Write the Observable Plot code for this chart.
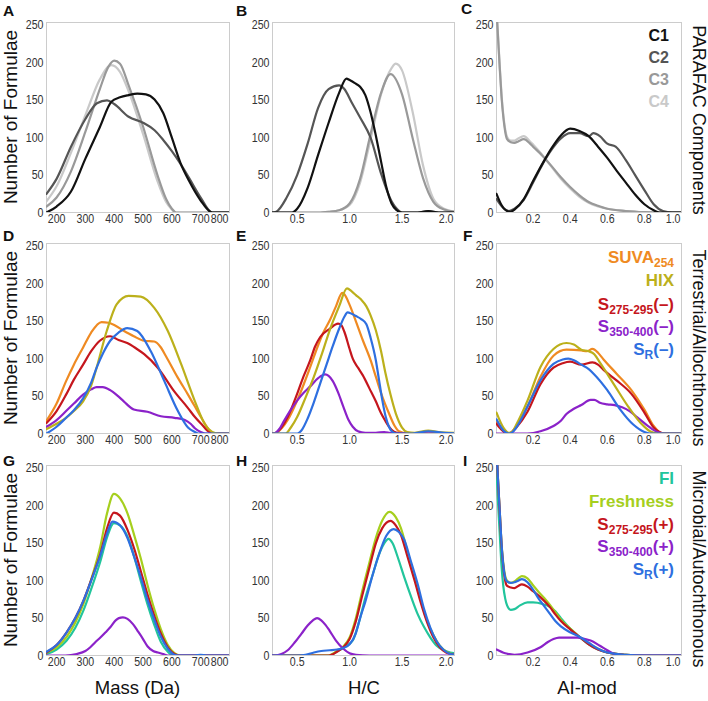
<!DOCTYPE html>
<html><head><meta charset="utf-8">
<script src="https://cdn.jsdelivr.net/npm/d3@7"></script>
<script src="https://cdn.jsdelivr.net/npm/@observablehq/plot@0.6"></script>
<style>
html,body{margin:0;padding:0;background:#fff;}
#wrap{position:relative;width:708px;height:701px;overflow:hidden;}
</style></head><body><div id="wrap"></div>
<script>
// ---------- tick labels ----------
const yTicks = [0, 50, 100, 150, 200, 250];
const massTicks = [200, 300, 400, 500, 600, 700, 800];
const hcTicks = [0.5, 1.0, 1.5, 2.0];
const aiTicks = [0.2, 0.4, 0.6, 0.8, 1.0];
const axisTitles = ["Mass (Da)", "H/C", "AI-mod"];
const rowTitles = ["PARAFAC Components", "Terrestrial/Allochthonous", "Microbial/Autochthonous"];
const panelLetters = ["A","B","C","D","E","F","G","H","I"];
const legendC = ["C1","C2","C3","C4"];

// ---------- colors ----------
const cC1 = "#111111", cC2 = "#555555", cC3 = "#999999", cC4 = "#c9c9c9";
const cSUVA = "#ef8a22", cHIX = "#bcb01b", cRed = "#c5161d", cPurple = "#8b22c9", cBlue = "#2e6fe0", cFI = "#22c59c", cFresh = "#a6cf1e";

// ---------- row 1 : PARAFAC components ----------
const A_C1 = [[165,0],[200,8],[250,28],[300,72],[350,114],[390,148],[420,154],[450,157],[480,159],[510,158],[540,151],[570,133],[600,100],[630,66],[660,42],[700,16],[740,0],[800,0]];
const A_C2 = [[165,25],[200,45],[250,88],[300,125],[340,146],[375,150],[400,145],[450,128],[500,120],[540,110],[570,97],[600,82],[630,65],[660,46],[700,20],[740,0],[800,0]];
const A_C3 = [[165,8],[200,20],[250,55],[300,108],[350,165],[380,195],[400,203],[420,199],[450,170],[500,115],[550,50],[580,18],[600,5],[615,0],[800,0]];
const A_C4 = [[165,15],[200,35],[250,80],[300,130],[350,178],[390,197],[420,188],[450,162],[500,105],[550,42],[580,14],[600,4],[612,0],[800,0]];

const B_C1 = [[0.265,0],[0.45,0],[0.5,5],[0.6,33],[0.7,77],[0.8,120],[0.9,160],[0.97,179],[1.0,177],[1.05,173],[1.1,168],[1.15,157],[1.2,134],[1.25,103],[1.3,68],[1.35,34],[1.4,12],[1.45,3],[1.5,0],[1.65,0],[1.75,2],[1.85,0],[2.0,0]];
const B_C2 = [[0.265,0],[0.3,1],[0.4,20],[0.5,50],[0.6,92],[0.7,140],[0.8,165],[0.9,170],[0.95,165],[1.02,147],[1.1,127],[1.2,100],[1.3,52],[1.4,15],[1.45,5],[1.5,0],[1.65,0],[1.75,2],[1.85,0],[2.0,0]];
const B_C3 = [[0.265,0],[0.7,0],[0.8,1],[0.9,3],[1.0,12],[1.1,45],[1.2,105],[1.3,160],[1.39,185],[1.5,158],[1.6,100],[1.7,46],[1.8,14],[1.9,4],[2.0,1]];
const B_C4 = [[0.265,0],[0.7,0],[0.8,1],[0.9,3],[1.0,10],[1.1,40],[1.2,98],[1.3,158],[1.4,193],[1.44,199],[1.5,190],[1.6,135],[1.7,63],[1.8,18],[1.9,5],[2.0,1]];

const C_C1 = [[0.003,25],[0.03,10],[0.06,2],[0.08,1],[0.1,4],[0.15,18],[0.2,42],[0.25,65],[0.3,86],[0.35,103],[0.4,112],[0.45,109],[0.5,102],[0.55,88],[0.6,73],[0.65,56],[0.7,40],[0.75,24],[0.8,11],[0.85,3],[0.88,0],[1.0,0]];
const C_C2 = [[0.003,18],[0.04,6],[0.07,2],[0.1,5],[0.15,17],[0.2,40],[0.25,64],[0.3,84],[0.35,99],[0.4,106],[0.45,106],[0.5,102],[0.525,106],[0.56,102],[0.6,92],[0.645,88],[0.7,70],[0.75,50],[0.8,30],[0.85,11],[0.9,2],[0.95,0],[1.0,0]];
const C_C3 = [[0.003,270],[0.01,240],[0.02,195],[0.03,155],[0.04,127],[0.05,108],[0.06,98],[0.08,94],[0.1,93],[0.12,95],[0.15,98],[0.18,93],[0.2,88],[0.25,76],[0.3,62],[0.35,47],[0.4,34],[0.45,23],[0.5,14],[0.55,9],[0.6,5],[0.7,2],[0.8,0.5],[0.9,0],[1.0,0]];
const C_C4 = [[0.003,272],[0.01,242],[0.02,198],[0.03,158],[0.04,130],[0.05,111],[0.06,101],[0.08,96],[0.1,96],[0.12,99],[0.15,102],[0.18,96],[0.2,91],[0.25,77],[0.3,61],[0.35,45],[0.4,32],[0.45,21],[0.5,13],[0.55,8],[0.6,5],[0.7,2],[0.8,0.5],[0.9,0],[1.0,0]];

// ---------- row 2 : terrestrial / allochthonous ----------
const D_SUVA = [[165,17],[200,40],[233,70],[260,92],[292,115],[320,135],[356,149],[380,148],[400,145],[430,138],[468,130],[504,124],[539,123],[560,116],[580,103],[620,75],[656,52],[680,36],[704,20],[725,7],[740,1],[760,0],[800,0]];
const D_HIX = [[165,6],[200,13],[233,21],[260,30],[292,43],[320,64],[339,88],[374,137],[409,173],[450,184],[492,183],[539,168],[586,137],[633,92],[680,43],[715,12],[740,2],[760,0],[800,0]];
const D_S275 = [[165,14],[200,30],[233,52],[260,72],[292,92],[320,110],[350,124],[386,130],[415,125],[445,121],[475,114],[504,106],[551,88],[609,56],[656,34],[680,22],[704,12],[730,2],[745,0],[800,0]];
const D_S350 = [[165,9],[200,18],[233,30],[260,40],[292,52],[320,59],[339,62],[360,62],[386,58],[410,51],[433,43],[468,32],[515,29],[562,23],[609,21],[645,18],[665,13],[680,7],[700,2],[715,0],[800,0]];
const D_SR = [[165,0],[200,9],[233,21],[260,31],[292,47],[320,68],[339,88],[362,108],[386,124],[415,135],[445,141],[480,137],[527,110],[574,70],[621,30],[656,8],[680,2],[692,0],[800,0]];

const E_SUVA = [[0.265,0],[0.3,1],[0.41,18],[0.5,44],[0.625,89],[0.7,118],[0.75,135],[0.81,151],[0.87,170],[0.93,188],[0.95,186],[1.0,172],[1.06,150],[1.125,125],[1.2,98],[1.25,76],[1.31,50],[1.375,27],[1.43,10],[1.47,3],[1.55,0],[1.65,0],[1.75,3],[1.85,1],[2.0,0]];
const E_HIX = [[0.265,0],[0.39,0],[0.44,8],[0.5,22],[0.58,48],[0.66,76],[0.74,108],[0.81,138],[0.9,170],[0.975,194],[1.02,190],[1.06,185],[1.11,179],[1.16,170],[1.2,158],[1.25,138],[1.3,110],[1.34,82],[1.39,52],[1.44,27],[1.5,8],[1.55,2],[1.62,1],[1.75,4],[1.85,2],[2.0,1]];
const E_S275 = [[0.265,0],[0.28,0],[0.35,8],[0.41,22],[0.5,53],[0.56,76],[0.625,98],[0.67,116],[0.72,129],[0.81,140],[0.89,147],[0.92,145],[0.95,136],[1.0,113],[1.03,100],[1.08,88],[1.125,78],[1.19,60],[1.25,43],[1.3,27],[1.34,17],[1.4,5],[1.45,1],[1.5,0],[2.0,0]];
const E_S350 = [[0.265,0],[0.28,0],[0.33,6],[0.375,17],[0.44,32],[0.5,44],[0.56,54],[0.625,63],[0.7,74],[0.766,79],[0.8,77],[0.84,70],[0.89,55],[0.94,36],[0.99,18],[1.03,9],[1.08,3],[1.15,1],[1.25,1],[1.33,2],[1.38,1],[1.42,0],[2.0,0]];
const E_SR = [[0.265,0],[0.5,0],[0.55,6],[0.6,20],[0.66,42],[0.72,67],[0.78,92],[0.84,117],[0.9,140],[0.95,156],[0.98,162],[1.02,160],[1.06,157],[1.11,153],[1.16,146],[1.2,128],[1.25,98],[1.28,72],[1.31,46],[1.345,22],[1.375,9],[1.42,1],[1.45,0],[1.6,0],[1.75,3],[1.9,1],[2.0,0]];

const F_SUVA = [[0.003,16],[0.03,6],[0.06,0],[0.08,1],[0.11,10],[0.17,36],[0.24,76],[0.31,104],[0.38,112],[0.46,111],[0.49,110],[0.52,113],[0.55,108],[0.58,99],[0.65,80],[0.73,58],[0.8,32],[0.85,10],[0.88,2],[0.9,0],[1.0,0]];
const F_HIX = [[0.003,28],[0.04,8],[0.07,1],[0.09,3],[0.11,12],[0.17,44],[0.24,89],[0.31,113],[0.38,121],[0.42,119],[0.46,112],[0.5,110],[0.53,106],[0.56,95],[0.64,64],[0.71,37],[0.78,14],[0.83,3],[0.87,0],[1.0,0]];
const F_S275 = [[0.003,13],[0.03,5],[0.06,0],[0.08,1],[0.11,8],[0.17,29],[0.24,66],[0.31,88],[0.36,94],[0.4,96],[0.46,92],[0.52,95],[0.55,92],[0.58,85],[0.65,71],[0.73,53],[0.8,28],[0.85,8],[0.88,2],[0.91,0],[1.0,0]];
const F_S350 = [[0.003,0],[0.17,0],[0.24,3],[0.31,10],[0.35,17],[0.38,26],[0.42,33],[0.46,38],[0.51,45],[0.53,45],[0.56,41],[0.6,39],[0.64,38],[0.68,35],[0.72,30],[0.76,22],[0.82,10],[0.87,2],[0.91,0],[1.0,0]];
const F_SR = [[0.003,19],[0.04,4],[0.07,0],[0.09,2],[0.12,12],[0.17,36],[0.24,71],[0.31,93],[0.36,99],[0.39,100],[0.42,98],[0.46,92],[0.5,86],[0.53,79],[0.6,58],[0.67,32],[0.74,12],[0.8,2],[0.83,0],[1.0,0]];

// ---------- row 3 : microbial / autochthonous ----------
const G_FRESH = [[165,4],[200,11],[235,25],[265,44],[294,70],[322,104],[352,146],[375,190],[399,216],[420,210],[446,190],[470,160],[492,130],[515,95],[539,62],[562,35],[586,14],[609,3],[630,0],[800,0]];
const G_S275 = [[165,4],[200,14],[235,31],[265,50],[294,74],[322,103],[352,136],[375,170],[399,191],[420,187],[446,168],[470,142],[492,113],[515,82],[539,53],[562,29],[586,11],[609,2],[625,0],[800,0]];
const G_SR = [[165,5],[200,14],[235,31],[265,50],[294,74],[322,102],[352,134],[375,163],[394,179],[420,174],[446,157],[470,131],[492,105],[515,75],[539,48],[562,25],[586,9],[609,1],[625,0],[680,0],[700,1],[720,0],[800,0]];
const G_FI = [[165,2],[200,8],[235,20],[265,37],[294,61],[322,91],[352,126],[375,158],[399,177],[420,174],[446,159],[470,131],[492,100],[515,69],[539,41],[562,18],[586,5],[605,0],[800,0]];
const G_S350 = [[165,0],[230,0],[270,2],[300,6],[317,11],[335,18],[352,24],[370,31],[387,38],[405,47],[416,50],[430,51],[446,49],[465,42],[481,33],[500,22],[516,12],[535,6],[551,4],[570,2],[586,0],[800,0]];

const H_FRESH = [[0.265,0],[0.8,0],[0.88,6],[0.94,12],[1.0,24],[1.06,50],[1.12,86],[1.19,125],[1.25,157],[1.31,180],[1.38,192],[1.44,185],[1.49,170],[1.55,140],[1.62,104],[1.68,73],[1.74,46],[1.8,27],[1.86,13],[1.92,5],[2.0,1]];
const H_S275 = [[0.265,0],[0.8,0],[0.88,5],[0.94,11],[1.0,22],[1.06,46],[1.12,80],[1.19,118],[1.25,150],[1.31,170],[1.39,180],[1.44,174],[1.49,161],[1.55,133],[1.62,100],[1.68,70],[1.74,44],[1.8,24],[1.86,11],[1.92,4],[2.0,1]];
const H_SR = [[0.265,0],[0.5,0],[0.58,1],[0.66,4],[0.73,6],[0.81,7],[0.88,8],[0.94,10],[1.0,15],[1.06,30],[1.1,50],[1.15,72],[1.22,108],[1.28,135],[1.35,160],[1.42,169],[1.47,165],[1.52,155],[1.58,128],[1.65,95],[1.71,62],[1.77,37],[1.83,19],[1.9,7],[1.96,2],[2.0,1]];
const H_FI = [[0.265,0],[0.8,0],[0.9,7],[0.96,12],[1.03,20],[1.09,45],[1.15,77],[1.22,108],[1.28,135],[1.33,150],[1.37,156],[1.41,150],[1.46,131],[1.52,105],[1.59,77],[1.65,55],[1.71,38],[1.77,24],[1.83,13],[1.9,7],[1.96,4],[2.0,3]];
const H_S350 = [[0.265,0],[0.29,0],[0.35,2],[0.41,7],[0.48,18],[0.54,29],[0.6,40],[0.65,47],[0.69,50],[0.73,47],[0.77,41],[0.81,33],[0.87,20],[0.94,9],[1.0,3],[1.06,1],[1.19,0],[2.0,0]];

const I_FRESH = [[0.003,280],[0.01,240],[0.02,195],[0.03,150],[0.04,122],[0.05,106],[0.06,100],[0.08,97],[0.1,99],[0.12,103],[0.14,106],[0.17,103],[0.2,94],[0.23,85],[0.26,77],[0.29,68],[0.32,58],[0.35,48],[0.4,36],[0.45,25],[0.5,16],[0.55,9],[0.6,4],[0.7,1],[0.8,0],[1.0,0]];
const I_S275 = [[0.003,280],[0.01,240],[0.02,195],[0.03,148],[0.04,118],[0.05,100],[0.06,93],[0.08,91],[0.1,90],[0.12,93],[0.14,95],[0.17,92],[0.2,86],[0.23,80],[0.26,73],[0.29,65],[0.32,55],[0.35,46],[0.4,35],[0.45,25],[0.5,15],[0.55,8],[0.6,4],[0.7,1],[0.8,0],[1.0,0]];
const I_SR = [[0.003,280],[0.01,240],[0.02,195],[0.03,150],[0.04,120],[0.05,104],[0.06,99],[0.08,97],[0.1,98],[0.12,100],[0.14,102],[0.17,98],[0.2,88],[0.23,76],[0.26,66],[0.29,56],[0.32,46],[0.35,39],[0.4,31],[0.45,25],[0.5,17],[0.55,9],[0.6,4],[0.7,1],[0.8,0],[1.0,0]];
const I_FI = [[0.003,250],[0.01,210],[0.02,165],[0.03,120],[0.04,92],[0.05,76],[0.06,67],[0.08,61],[0.1,62],[0.13,67],[0.17,71],[0.2,71],[0.25,69],[0.29,65],[0.32,59],[0.35,50],[0.4,36],[0.45,25],[0.5,15],[0.55,8],[0.6,4],[0.7,1],[0.8,0],[1.0,0]];
const I_S350 = [[0.003,8],[0.05,3],[0.1,1],[0.17,4],[0.24,11],[0.28,18],[0.31,22],[0.34,24],[0.38,24],[0.44,24],[0.48,22],[0.51,20],[0.56,13],[0.6,7],[0.64,2],[0.68,0],[1.0,0]];

// ---------- layout ----------
const TICKFONT = "'Liberation Sans',Arial,sans-serif";
const LABELFONT = "'Liberation Sans',Arial,sans-serif";
const colLeft = [46, 272, 496], colW = [183, 182, 185];
const rowTop = [22, 243, 465], FH = 190;
const xConf = [
  {dom:[165, 800], ticks:massTicks, fmt:d => String(d)},
  {dom:[0.265, 2.0], ticks:hcTicks, fmt:d3.format(".1f")},
  {dom:[0.003, 1.0], ticks:aiTicks, fmt:d3.format(".1f")}
];
const panels = [
  [[A_C4,cC4],[A_C3,cC3],[A_C2,cC2],[A_C1,cC1]],
  [[B_C4,cC4],[B_C3,cC3],[B_C2,cC2],[B_C1,cC1]],
  [[C_C4,cC4],[C_C3,cC3],[C_C2,cC2],[C_C1,cC1]],
  [[D_SUVA,cSUVA],[D_S275,cRed],[D_S350,cPurple],[D_HIX,cHIX],[D_SR,cBlue]],
  [[E_SUVA,cSUVA],[E_S275,cRed],[E_S350,cPurple],[E_HIX,cHIX],[E_SR,cBlue]],
  [[F_SUVA,cSUVA],[F_S275,cRed],[F_S350,cPurple],[F_HIX,cHIX],[F_SR,cBlue]],
  [[G_FI,cFI],[G_FRESH,cFresh],[G_S275,cRed],[G_S350,cPurple],[G_SR,cBlue]],
  [[H_FI,cFI],[H_FRESH,cFresh],[H_S275,cRed],[H_S350,cPurple],[H_SR,cBlue]],
  [[I_FI,cFI],[I_FRESH,cFresh],[I_S275,cRed],[I_S350,cPurple],[I_SR,cBlue]]
];

const wrap = document.getElementById("wrap");
panels.forEach((series, i) => {
  const row = Math.floor(i / 3), col = i % 3;
  const xc = xConf[col];
  const fw = colW[col], mL = 30, mR = 8, mT = 4, mB = 20;
  const chart = Plot.plot({
    width: fw + mL + mR, height: FH + mT + mB,
    marginLeft: mL, marginRight: mR, marginTop: mT, marginBottom: mB,
    x: {domain: xc.dom}, y: {domain: [0, 254]},
    style: {background: "transparent", fontFamily: TICKFONT, fontSize: "12.5px", color: "#333333", overflow: "visible"},
    marks: [
      Plot.frame({stroke: "#cccccc", strokeWidth: 1}),
      ...series.map(([data, color]) => Plot.line(data, {x: d => d[0], y: d => d[1], stroke: color, strokeWidth: 2.2, curve: "monotone-x", clip: true})),
      Plot.axisY(yTicks, {tickSize: 0, tickPadding: 3, label: null}),
      Plot.axisX(xc.ticks.slice(0, -1), {tickSize: 0, tickPadding: 2, tickFormat: xc.fmt, label: null}),
      Plot.axisX(xc.ticks.slice(-1), {tickSize: 0, tickPadding: 2, tickFormat: xc.fmt, label: null, textAnchor: "end", dx: -1})
    ]
  });
  chart.style.position = "absolute";
  chart.style.left = (colLeft[col] - mL) + "px";
  chart.style.top = (rowTop[row] - mT) + "px";
  wrap.appendChild(chart);
  // condense tick labels (the reference uses a narrow face)
  chart.querySelectorAll("text").forEach(t => {
    const w = t.getComputedTextLength();
    if (w > 0) {
      t.setAttribute("textLength", (w * 0.85).toFixed(2));
      t.setAttribute("lengthAdjust", "spacingAndGlyphs");
    }
  });
});

// ---------- text overlay ----------
const ov = d3.create("svg").attr("width", 708).attr("height", 701)
  .style("position", "absolute").style("left", "0px").style("top", "0px")
  .style("pointer-events", "none").attr("font-family", LABELFONT);

const letterPos = [[3,15.5],[236,15.5],[461,13.5],[3,241],[236,241],[463,240.5],[3,466],[236,466],[463,466]];
panelLetters.forEach((L, i) => {
  ov.append("text").attr("x", letterPos[i][0]).attr("y", letterPos[i][1])
    .attr("font-size", 15.5).attr("font-weight", "bold").attr("fill", "#111").text(L);
});
[117, 338, 560].forEach(cy => {
  ov.append("text").attr("transform", `translate(17,${cy}) rotate(-90)`).attr("text-anchor", "middle")
    .attr("font-size", 19).attr("fill", "#111").text("Number of Formulae");
});
[120, 348, 569].forEach((cy, i) => {
  ov.append("text").attr("transform", `translate(693,${cy}) rotate(90)`).attr("text-anchor", "middle")
    .attr("font-size", 18).attr("fill", "#111").text(rowTitles[i]);
});
[[137.5,693.5],[364,693.5],[587,693.5]].forEach(([x, y], i) => {
  ov.append("text").attr("x", x).attr("y", y).attr("text-anchor", "middle")
    .attr("font-size", 18.5).attr("fill", "#111").text(axisTitles[i]);
});
// legend C
const cColors = [cC1, cC2, cC3, cC4];
[40.7, 63, 85, 107].forEach((y, i) => {
  ov.append("text").attr("x", 669).attr("y", y).attr("text-anchor", "end")
    .attr("font-size", 16).attr("font-weight", "bold").attr("fill", cColors[i]).text(legendC[i]);
});
function legendLine(y, color, main, sub, tail) {
  const t = ov.append("text").attr("x", 674).attr("y", y).attr("text-anchor", "end")
    .attr("font-size", 17).attr("font-weight", "bold").attr("fill", color);
  t.append("tspan").text(main);
  if (sub) t.append("tspan").attr("font-size", 12).attr("dy", 4).text(sub);
  if (tail) t.append("tspan").attr("dy", sub ? -4 : 0).text(tail);
}
legendLine(263, cSUVA, "SUVA", "254", "");
legendLine(286, cHIX, "HIX", "", "");
legendLine(309.5, cRed, "S", "275-295", "(\u2013)");
legendLine(332, cPurple, "S", "350-400", "(\u2013)");
legendLine(355, cBlue, "S", "R", "(\u2013)");
legendLine(484, cFI, "FI", "", "");
legendLine(507, cFresh, "Freshness", "", "");
legendLine(530, cRed, "S", "275-295", "(+)");
legendLine(552, cPurple, "S", "350-400", "(+)");
legendLine(575, cBlue, "S", "R", "(+)");

wrap.appendChild(ov.node());
</script></body></html>
